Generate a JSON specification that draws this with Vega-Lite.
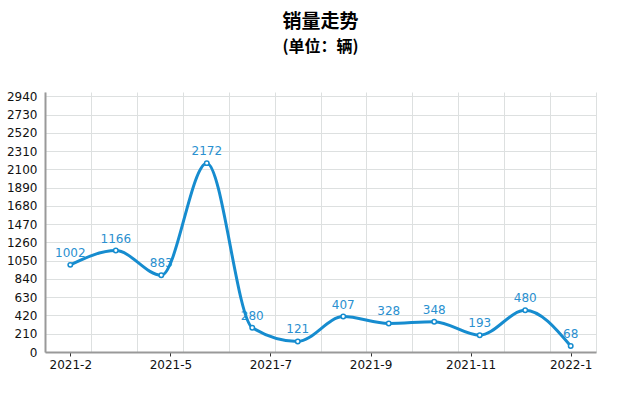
{
  "$schema": "https://vega.github.io/schema/vega-lite/v6.json",
  "width": 551,
  "height": 260,
  "autosize": "none",
  "padding": {"left": 45, "top": 92, "right": 46, "bottom": 42},
  "background": "white",
  "title": {
    "text": "销量走势",
    "subtitle": "(单位：辆)",
    "font": "Noto Sans CJK SC",
    "fontSize": 19,
    "fontWeight": "bold",
    "color": "#000000",
    "subtitleFont": "Noto Sans CJK SC",
    "subtitleFontSize": 16,
    "subtitleFontWeight": "bold",
    "subtitleColor": "#000000",
    "subtitlePadding": 7,
    "anchor": "middle",
    "offset": 35
  },
  "config": {
    "view": {"stroke": null},
    "axis": {
      "labelFont": "DejaVu Sans",
      "labelFontSize": 12,
      "labelColor": "#111111",
      "gridColor": "#dde0e0",
      "gridWidth": 1
    }
  },
  "data": {
    "values": [
      {"month": "2021-2", "i": 0, "sales": 1002},
      {"month": "2021-3", "i": 1, "sales": 1166},
      {"month": "2021-4", "i": 2, "sales": 883},
      {"month": "2021-5", "i": 3, "sales": 2172},
      {"month": "2021-6", "i": 4, "sales": 280},
      {"month": "2021-7", "i": 5, "sales": 121},
      {"month": "2021-8", "i": 6, "sales": 407},
      {"month": "2021-9", "i": 7, "sales": 328},
      {"month": "2021-10", "i": 8, "sales": 348},
      {"month": "2021-11", "i": 9, "sales": 193},
      {"month": "2021-12", "i": 10, "sales": 480},
      {"month": "2022-1", "i": 11, "sales": 68}
    ]
  },
  "encoding": {
    "y": {
      "field": "sales",
      "type": "quantitative",
      "scale": {"domain": [0, 2990], "nice": false},
      "axis": {
        "values": [0, 210, 420, 630, 840, 1050, 1260, 1470, 1680, 1890, 2100, 2310, 2520, 2730, 2940],
        "format": "d",
        "title": null,
        "grid": true,
        "ticks": false,
        "domainColor": "#999999",
        "domainWidth": 2,
        "labelPadding": 8
      }
    }
  },
  "layer": [
    {
      "mark": {"type": "text", "dy": -8, "baseline": "alphabetic", "font": "DejaVu Sans", "fontSize": 12, "color": "#2a90d0"},
      "encoding": {
        "x": {
          "field": "i",
          "type": "quantitative",
          "scale": {"domain": [-0.556, 11.556], "nice": false, "zero": false},
          "axis": {
            "orient": "top",
            "values": [-0.556, 0.453, 1.463, 2.472, 3.481, 4.491, 5.5, 6.509, 7.519, 8.528, 9.537, 10.547, 11.556],
            "grid": true,
            "labels": false,
            "ticks": false,
            "domain": false,
            "title": null
          }
        },
        "text": {"field": "sales", "type": "quantitative", "format": "d"}
      }
    },
    {
      "mark": {
        "type": "line",
        "interpolate": "monotone",
        "color": "#168ccf",
        "strokeWidth": 3,
        "point": {"filled": false, "fill": "white", "stroke": "#168ccf", "strokeWidth": 1.5, "size": 20}
      },
      "encoding": {
        "x": {
          "field": "i",
          "type": "quantitative",
          "axis": {
            "values": [0, 2.2, 4.4, 6.6, 8.8, 11],
            "labelExpr": "['2021-2','2021-5','2021-7','2021-9','2021-11','2022-1'][round(datum.value/2.2)]",
            "grid": false,
            "title": null,
            "domainColor": "#999999",
            "domainWidth": 2,
            "tickColor": "#333333",
            "tickSize": 4,
            "labelPadding": 3,
            "labelFlush": false
          }
        }
      }
    }
  ],
  "resolve": {"axis": {"x": "independent"}}
}
